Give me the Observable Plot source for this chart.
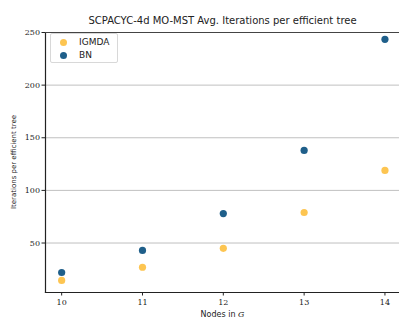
<!DOCTYPE html>
<html><head><meta charset="utf-8">
<script src="https://cdn.jsdelivr.net/npm/d3@7"></script>
<script src="https://cdn.jsdelivr.net/npm/@observablehq/plot@0.6"></script>
<style>
body{margin:0;background:#fff;}
#wrap{position:relative;width:399px;height:322px;}
#legend{position:absolute;left:50px;top:33px;width:66px;height:28px;border:1px solid #d8d8d8;border-radius:2px;background:rgba(255,255,255,0.8);font:9px "DejaVu Sans",sans-serif;color:#222;}
#legend .row{position:absolute;left:9px;display:flex;align-items:center;}
#legend .sw{width:7px;height:7px;border-radius:50%;margin-right:12px;}
</style></head><body>
<div id="wrap"></div>
<script>
const nodes = [10, 11, 12, 13, 14];
const igmda = [14.5, 27, 45, 79, 119];
const bn = [22, 43, 78, 138, 243.5];
const series = ["IGMDA", "BN"];
const colors = ["#fdc551", "#1f5f8a"];
const yTicks = [50, 100, 150, 200, 250];
const title = "SCPACYC-4d MO-MST Avg. Iterations per efficient tree";

const data = [];
nodes.forEach((n, i) => {
  data.push({n, v: igmda[i], s: "IGMDA"});
  data.push({n, v: bn[i], s: "BN"});
});

const chart = Plot.plot({
  width: 399, height: 322,
  marginLeft: 45, marginRight: 0, marginTop: 32, marginBottom: 30,
  style: {fontFamily: "'DejaVu Serif', serif", fontSize: "8px", color: "#222", background: "#fff"},
  x: {domain: [9.8, 14.18], label: null},
  y: {domain: [3, 250], label: null},
  color: {domain: series, range: colors},
  marks: [
    Plot.gridY(yTicks, {stroke: "#b0b0b0", strokeOpacity: 1, strokeWidth: 0.8}),
    Plot.frame({anchor: "left", stroke: "#222", strokeWidth: 1.2}),
    Plot.frame({anchor: "bottom", stroke: "#222", strokeWidth: 1.2}),
    Plot.frame({anchor: "top", stroke: "#444", strokeWidth: 1.2}),
    Plot.axisX(nodes, {tickFormat: d => String(d), tickSize: 3.5, tickPadding: 3, label: null, fontSize: 8}),
    Plot.axisY(yTicks, {tickFormat: d => String(d), tickSize: 3.5, tickPadding: 2, label: null, fontSize: 8}),
    Plot.dot(data, {x: "n", y: "v", fill: "s", r: 3.6}),
    Plot.text([title], {frameAnchor: "top", dy: -16, fontFamily: "'DejaVu Sans', sans-serif", fontSize: 10, fill: "#222"})
  ]
});

const svg = d3.select(chart);
svg.append("text").attr("transform", "translate(16,162) rotate(-90)")
  .attr("text-anchor", "middle").attr("font-family", "'DejaVu Sans', sans-serif").attr("font-size", 7).attr("fill", "#222")
  .text("Iterations per efficient tree");
const xl = svg.append("text").attr("x", 222.5).attr("y", 317)
  .attr("text-anchor", "middle").attr("font-family", "'DejaVu Sans', sans-serif").attr("font-size", 8).attr("fill", "#222");
xl.append("tspan").text("Nodes in ");
xl.append("tspan").attr("font-family", "'DejaVu Serif', serif").attr("font-style", "italic").text("G");

document.getElementById("wrap").appendChild(chart);

const lg = document.createElement("div");
lg.id = "legend";
series.forEach((s, i) => {
  const r = document.createElement("div");
  r.className = "row";
  r.style.top = (3 + i * 13) + "px";
  r.innerHTML = `<span class="sw" style="background:${colors[i]}"></span><span>${s}</span>`;
  lg.appendChild(r);
});
document.getElementById("wrap").appendChild(lg);
</script>
</body></html>
